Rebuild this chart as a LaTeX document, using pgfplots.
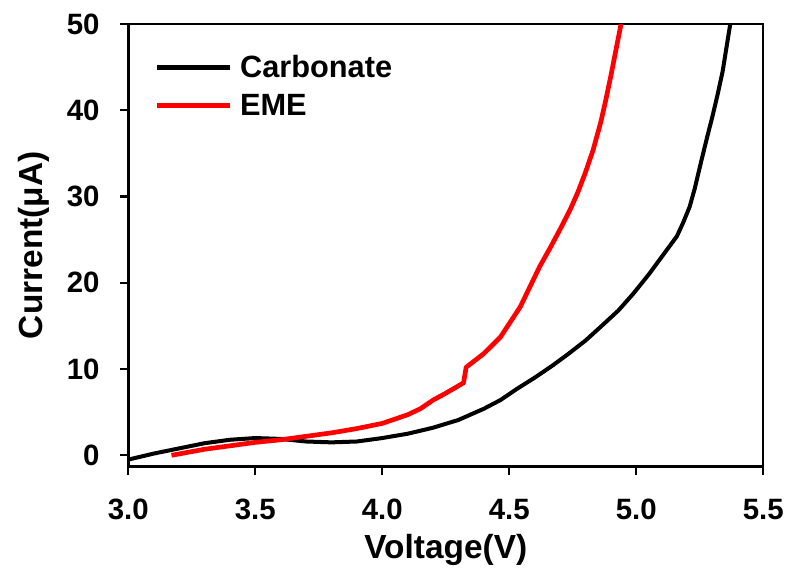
\documentclass[border=0pt]{standalone}
\usepackage{pgfplots}
\pgfplotsset{compat=1.18}
\usepackage{fontspec}
\setmainfont{Liberation Sans}
\begin{document}
\begin{tikzpicture}
\begin{axis}[
  scale only axis,
  width=475pt, height=331pt,
  xmin=3.0, xmax=5.5, ymin=-1.3, ymax=50,
  xtick={3.0,3.5,4.0,4.5,5.0,5.5},
  ytick={0,10,20,30,40,50},
  tick pos=left,
  tick align=outside,
  major tick length=6pt,
  axis line style={line width=1.8pt},
  every tick/.style={line width=1.6pt, black},
  /pgf/number format/assume math mode=true,
  xticklabel style={/pgf/number format/.cd, fixed, fixed zerofill, precision=1, /tikz/.cd, font=\fontsize{22}{24}\selectfont\bfseries, yshift=-15pt},
  yticklabel style={font=\fontsize{22}{24}\selectfont\bfseries, xshift=-12pt},
  xlabel={\bfseries Voltage(V)},
  ylabel={\bfseries Current(μA)},
  label style={font=\fontsize{25}{27}\selectfont\bfseries},
  xlabel style={at={(axis description cs:0.5,0)}, anchor=base, yshift=-69pt},
  ylabel style={at={([xshift=-64.5pt]axis description cs:0,0.5)}, anchor=base},
  legend style={draw=none, fill=none, at={(0.035,0.942)}, anchor=north west,
    font=\fontsize{23}{25}\selectfont\bfseries, row sep=7pt,
    /tikz/every odd column/.append style={column sep=4pt}},
  legend cell align=left,
  legend image code/.code={\draw[#1, line width=3.8pt] (0pt,0pt) -- (54pt,0pt);},
]
\addplot[black, line width=3pt, line join=round] coordinates {
(3.00,-0.5) (3.10,0.2) (3.20,0.8) (3.30,1.4) (3.40,1.8) (3.50,2.0) (3.60,1.9)
(3.70,1.6) (3.80,1.5) (3.90,1.6) (4.00,2.0) (4.10,2.5) (4.20,3.2) (4.30,4.1)
(4.40,5.4) (4.465,6.4) (4.53,7.7) (4.60,9.0) (4.67,10.4) (4.73,11.7) (4.80,13.3)
(4.86,14.9) (4.93,16.8) (4.99,18.8) (5.05,21.0) (5.12,23.8) (5.16,25.4)
(5.185,27.0) (5.21,28.8) (5.23,30.9) (5.255,34.0) (5.28,37.0) (5.30,39.3)
(5.32,41.8) (5.34,44.5) (5.37,50)
};
\addlegendentry{Carbonate}
\addplot[red, line width=3.5pt, line join=round] coordinates {
(3.17,0.0) (3.30,0.7) (3.40,1.1) (3.50,1.5) (3.60,1.8) (3.70,2.2) (3.80,2.6)
(3.90,3.1) (4.00,3.7) (4.10,4.7) (4.15,5.4) (4.20,6.4) (4.25,7.2) (4.32,8.4)
(4.33,10.2) (4.40,11.8) (4.465,13.7) (4.543,17.2) (4.62,21.9) (4.66,24.0)
(4.70,26.2) (4.74,28.5) (4.77,30.5) (4.80,32.8) (4.83,35.4) (4.86,38.6)
(4.88,41.2) (4.90,44.0) (4.92,47.0) (4.94,50)
};
\addlegendentry{EME}
\end{axis}
\path[use as bounding box] (current axis.south west) ++(-96pt,-79pt) rectangle ([shift={(23pt,18pt)}]current axis.north east);
\end{tikzpicture}
\end{document}
